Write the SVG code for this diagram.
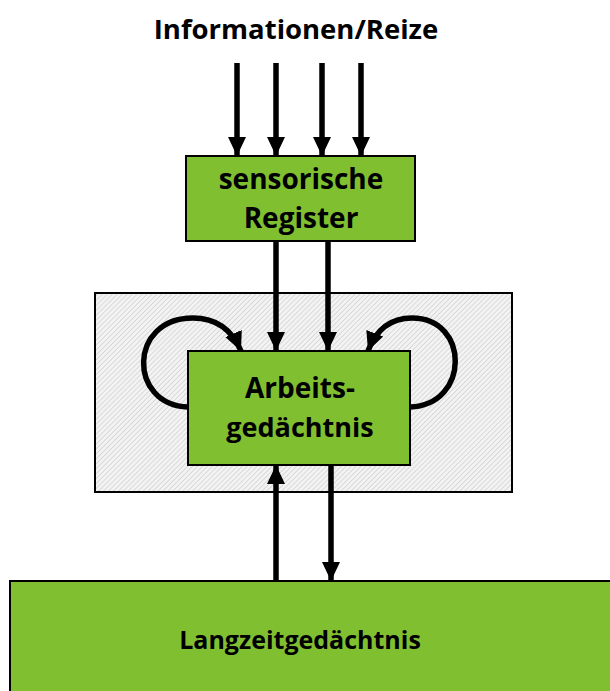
<svg xmlns="http://www.w3.org/2000/svg" width="610" height="691" viewBox="0 0 610 691">
<style>
.t{font-family:"Open Sans","Liberation Sans",sans-serif;font-weight:bold;fill:#000;text-anchor:middle}
.box{fill:#80BF30;stroke:#000;stroke-width:2}
.c{fill:none;stroke:#000;stroke-width:5.5}
</style>
<defs>
<pattern id="hatch" patternUnits="userSpaceOnUse" width="3.5" height="3.5" patternTransform="rotate(45)">
<rect width="3.5" height="3.5" fill="#f3f3f3"/>
<line x1="0" y1="0" x2="0" y2="3.5" stroke="#c0c0c0" stroke-width="1"/>
</pattern>
<marker id="ah" markerUnits="userSpaceOnUse" markerWidth="20" markerHeight="20" viewBox="0 0 20 20" refX="19" refY="10" orient="auto">
<path d="M0,1 L19,10 L0,19 Z" fill="#000"/>
</marker>
</defs>
<g id="title"><text class="t" x="296" y="39" font-size="27.5">Informationen/Reize</text></g>
<g id="wm-area"><rect x="95" y="293" width="417" height="199" fill="url(#hatch)" stroke="#000" stroke-width="2"/></g>
<g id="sensory"><rect class="box" x="186" y="156" width="229" height="85"/>
<text class="t" x="301" y="189" font-size="28">sensorische</text>
<text class="t" x="301" y="228" font-size="28">Register</text></g>
<g id="working"><rect class="box" x="188" y="351" width="222" height="114"/>
<text class="t" x="300" y="398" font-size="28">Arbeits-</text>
<text class="t" x="300" y="437" font-size="27">gedächtnis</text></g>
<g id="longterm"><rect class="box" x="10" y="581" width="610" height="120"/>
<text class="t" x="300" y="649" font-size="25">Langzeitgedächtnis</text></g>
<g id="connectors">
<line class="c" x1="237" y1="63" x2="237" y2="156" marker-end="url(#ah)"/>
<line class="c" x1="276" y1="63" x2="276" y2="156" marker-end="url(#ah)"/>
<line class="c" x1="322" y1="63" x2="322" y2="156" marker-end="url(#ah)"/>
<line class="c" x1="361" y1="63" x2="361" y2="156" marker-end="url(#ah)"/>
<line class="c" x1="276" y1="241" x2="276" y2="351" marker-end="url(#ah)"/>
<line class="c" x1="328" y1="241" x2="328" y2="351" marker-end="url(#ah)"/>
<path class="c" d="M188,407 C128,405 128,318 193,318 C216,318 232,330 241,351" marker-end="url(#ah)"/>
<path class="c" d="M410,407 C470,405 470,318 412,318 C390,318 376,330 368,351" marker-end="url(#ah)"/>
<line class="c" x1="276" y1="581" x2="276" y2="465" marker-end="url(#ah)"/>
<line class="c" x1="331" y1="465" x2="331" y2="581" marker-end="url(#ah)"/>
</g>
</svg>
